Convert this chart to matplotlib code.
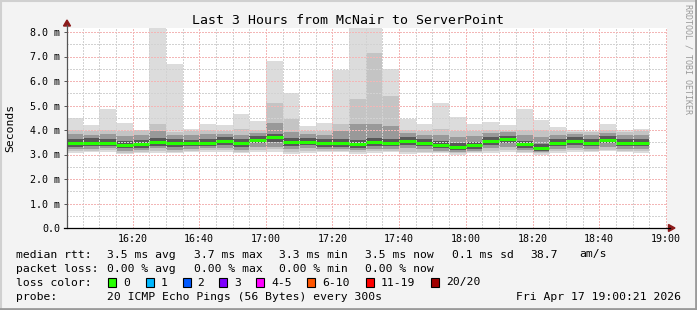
# smokeping style latency chart - Last 3 Hours from McNair to ServerPoint
import numpy as np
import matplotlib
matplotlib.use('Agg')
from matplotlib import pyplot as plt
from matplotlib.lines import Line2D
from matplotlib.patches import Polygon, Rectangle

plt.rcParams['font.family'] = ['DejaVu Sans Mono']

# 5 minute bins starting 16:00, values in ms
max_rtt = [4.48, 4.20, 4.86, 4.30, 4.00, 8.40, 6.69, 4.04, 4.24, 4.20, 4.65, 4.35, 6.83, 5.51, 4.16, 4.29, 6.46, 8.40,
           8.40, 6.49, 4.46, 4.24, 5.10, 4.53, 4.24, 4.33, 4.20, 4.86, 4.41, 4.12, 4.00, 3.97, 4.24, 4.00, 4.04]
hi2 = [4.00, 3.95, 4.02, 3.95, 3.98, 4.24, 3.92, 3.97, 4.00, 3.95, 4.05, 4.00, 5.11, 4.45, 3.95, 3.95, 4.24, 5.27,
       7.14, 5.40, 4.00, 3.97, 4.05, 3.95, 3.95, 4.00, 3.95, 3.98, 4.00, 3.95, 3.92, 3.90, 4.00, 3.92, 3.95]
hi3 = [3.85, 3.80, 3.82, 3.75, 3.78, 3.95, 3.80, 3.78, 3.82, 3.85, 3.80, 3.88, 4.27, 3.90, 3.82, 3.80, 3.95, 4.24,
       4.24, 4.16, 3.88, 3.80, 3.78, 3.72, 3.75, 3.88, 3.90, 3.78, 3.70, 3.80, 3.85, 3.80, 3.88, 3.80, 3.80]
hi4 = [3.65, 3.68, 3.62, 3.55, 3.58, 3.68, 3.62, 3.60, 3.62, 3.70, 3.62, 3.75, 3.85, 3.66, 3.68, 3.62, 3.62, 3.60,
       3.68, 3.64, 3.70, 3.62, 3.55, 3.48, 3.52, 3.70, 3.76, 3.56, 3.44, 3.64, 3.70, 3.62, 3.74, 3.62, 3.63]
median = [3.48, 3.48, 3.47, 3.39, 3.42, 3.52, 3.47, 3.47, 3.48, 3.56, 3.47, 3.61, 3.71, 3.51, 3.53, 3.47, 3.47, 3.43,
          3.51, 3.48, 3.56, 3.48, 3.39, 3.31, 3.37, 3.56, 3.63, 3.41, 3.28, 3.48, 3.56, 3.48, 3.61, 3.48, 3.48]
lo4 = [3.32, 3.34, 3.34, 3.25, 3.28, 3.36, 3.32, 3.33, 3.34, 3.40, 3.32, 3.45, 3.50, 3.36, 3.38, 3.32, 3.32, 3.28,
       3.35, 3.33, 3.40, 3.34, 3.25, 3.18, 3.22, 3.40, 3.46, 3.26, 3.16, 3.33, 3.40, 3.34, 3.45, 3.34, 3.34]
lo3 = [3.22, 3.24, 3.25, 3.15, 3.18, 3.25, 3.20, 3.24, 3.25, 3.28, 3.20, 3.30, 3.32, 3.22, 3.26, 3.22, 3.22, 3.18,
       3.24, 3.22, 3.25, 3.22, 3.16, 3.12, 3.15, 3.26, 3.30, 3.18, 3.10, 3.22, 3.28, 3.24, 3.30, 3.24, 3.22]
lo2 = [3.15, 3.16, 3.18, 3.08, 3.10, 3.15, 3.12, 3.16, 3.18, 3.18, 3.12, 3.20, 3.22, 3.12, 3.16, 3.15, 3.15, 3.10,
       3.15, 3.15, 3.12, 3.12, 3.10, 3.06, 3.10, 3.15, 3.18, 3.12, 3.05, 3.14, 3.18, 3.15, 3.20, 3.16, 3.14]
min_rtt = [3.08, 3.10, 3.12, 3.02, 3.05, 3.08, 3.05, 3.10, 3.12, 3.10, 3.05, 3.12, 3.12, 3.02, 3.08, 3.10, 3.10, 3.04,
           3.08, 3.10, 3.02, 3.05, 3.05, 3.00, 3.05, 3.05, 3.10, 3.08, 3.00, 3.08, 3.12, 3.10, 3.14, 3.12, 3.08]

tick_times = ['16:20', '16:40', '17:00', '17:20', '17:40', '18:00', '18:20', '18:40', '19:00']
y_ticks = [0, 1, 2, 3, 4, 5, 6, 7, 8]
y_labels = ['0.0', '1.0 m', '2.0 m', '3.0 m', '4.0 m', '5.0 m', '6.0 m', '7.0 m', '8.0 m']

stat_rows = [
    ('median rtt:', ['3.5 ms avg', '3.7 ms max', '3.3 ms min', '3.5 ms now', '0.1 ms sd', '38.7', 'am/s']),
    ('packet loss:', ['0.00 % avg', '0.00 % max', '0.00 % min', '0.00 % now']),
]
loss_labels = ['0', '1', '2', '3', '4-5', '6-10', '11-19', '20/20']
loss_colors = ['#26ff00', '#00b8ff', '#0059ff', '#7e00ff', '#ff00ff', '#ff5500', '#ff0000', '#a00000']
probe_text = '20 ICMP Echo Pings (56 Bytes) every 300s'
date_text = 'Fri Apr 17 19:00:21 2026'

W, H = 697, 310


def fx(x):
    return x / W


def fy(y):
    return 1 - y / H


fig = plt.figure(figsize=(W / 100, H / 100), dpi=100, facecolor='#f3f3f3')
ax = fig.add_axes([fx(67), fy(228), 600 / W, 200 / H])
ax.set_facecolor('white')

edges = np.arange(len(median) + 1) * 300
ax.set_xlim(21, 10821)
ax.set_ylim(0, 200 / 24.5)

# smoke layers, outer to inner
layers = [(min_rtt, max_rtt, '#dcdcdc'), (lo2, hi2, '#c4c4c4'),
          (lo3, hi3, '#999999'), (lo4, hi4, '#585858')]
for lo, hi, c in layers:
    ax.stairs(hi, edges, baseline=lo, fill=True, color=c, lw=0, zorder=1)

# grid, drawn over the smoke like rrdtool (1px dots)
dot = (0, (1.4, 1.4))
for v in np.arange(300, 10801, 300):
    major = v % 1200 == 0
    ax.axvline(v, color='#f3b6b6' if major else '#d2d2d2', lw=0.72, ls=dot, antialiased=False, zorder=2)
for v in np.arange(0.5, 8.01, 0.5):
    major = v % 1 == 0
    ax.axhline(v, color='#f3b6b6' if major else '#d2d2d2', lw=0.72, ls=dot, antialiased=False, zorder=2)

ax.hlines(median, edges[:-1], edges[1:], color='#26ff00', lw=2.2, zorder=3)

tick_pos = [(int(t[:2]) - 16) * 3600 + int(t[3:]) * 60 for t in tick_times]
ax.set_xticks(tick_pos)
ax.set_xticklabels(tick_times, fontsize=7.2)
ax.set_yticks(y_ticks)
ax.set_yticklabels(y_labels, fontsize=7.2)
ax.tick_params(axis='x', length=0, pad=4)
ax.tick_params(axis='y', length=2.2, width=0.7, color='#555555', pad=2.5)
for s in ax.spines.values():
    s.set_visible(False)

# axes lines with arrows
fig.add_artist(Line2D([fx(67), fx(67)], [fy(228), fy(25)], color='#555555', lw=0.9, transform=fig.transFigure))
fig.add_artist(Line2D([fx(64), fx(670)], [fy(228), fy(228)], color='black', lw=0.9, transform=fig.transFigure))
fig.add_artist(Polygon([[fx(63.5), fy(26)], [fx(70.5), fy(26)], [fx(67), fy(20)]], closed=True,
                       color='#8c1a1a', transform=fig.transFigure))
fig.add_artist(Polygon([[fx(668.5), fy(224.5)], [fx(668.5), fy(231.5)], [fx(675), fy(228)]], closed=True,
                       color='#8c1a1a', transform=fig.transFigure))

fig.text(fx(348), fy(20), 'Last 3 Hours from McNair to ServerPoint', ha='center', va='center', fontsize=9.5)
fig.text(fx(10), fy(128), 'Seconds', rotation=90, ha='center', va='center', fontsize=8.2)
fig.text(fx(688), fy(4), 'RRDTOOL / TOBI OETIKER', rotation=270, ha='center', va='top', fontsize=6,
         color='#999999')

# legend
col_x = [107, 194, 279, 365, 452, 530, 579]
row_y = [254.5, 268.5, 282.5, 296.5]
for (head, items), y in zip(stat_rows, row_y):
    fig.text(fx(16), fy(y), head, va='center', fontsize=8.2)
    for x, s in zip(col_x, items):
        fig.text(fx(x), fy(y), s, va='center', fontsize=8.2)

fig.text(fx(16), fy(row_y[2]), 'loss color:', va='center', fontsize=8.2)
box_x = [108, 145.5, 182.5, 219, 256, 307, 365.5, 431]
for x, lab, c in zip(box_x, loss_labels, loss_colors):
    fig.add_artist(Rectangle((fx(x), fy(row_y[2] + 4.5)), 8 / W, 9 / H, facecolor=c, edgecolor='black',
                             lw=0.8, transform=fig.transFigure))
    fig.text(fx(x + 15), fy(row_y[2]), lab, va='center', fontsize=8.2)

fig.text(fx(16), fy(row_y[3]), 'probe:', va='center', fontsize=8.2)
fig.text(fx(107), fy(row_y[3]), probe_text, va='center', fontsize=8.2)
fig.text(fx(681), fy(row_y[3]), date_text, va='center', ha='right', fontsize=8.2)

# 3d style frame
fig.add_artist(Line2D([0, 1], [fy(0.8), fy(0.8)], color='#d0d0d0', lw=1.5, transform=fig.transFigure))
fig.add_artist(Line2D([fx(0.8), fx(0.8)], [0, 1], color='#d0d0d0', lw=1.5, transform=fig.transFigure))
fig.add_artist(Line2D([0, 1], [fy(309), fy(309)], color='#9a9a9a', lw=2, transform=fig.transFigure))
fig.add_artist(Line2D([fx(696), fx(696)], [0, 1], color='#9a9a9a', lw=2, transform=fig.transFigure))

fig.savefig('out.png', dpi=100, facecolor=fig.get_facecolor())
